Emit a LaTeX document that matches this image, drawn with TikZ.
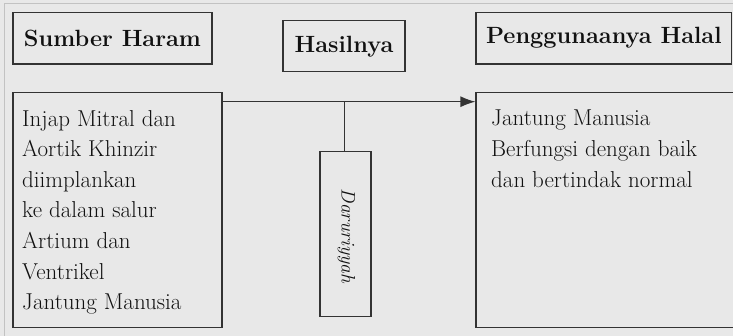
\documentclass[tikz,border=0pt]{standalone}
\usetikzlibrary{arrows.meta}
\definecolor{bg}{HTML}{E8E8E8}
\definecolor{framegray}{HTML}{C2C2C2}
\definecolor{ink}{HTML}{333333}
\definecolor{txt}{HTML}{111111}
\begin{document}
\begin{tikzpicture}[x=1pt,y=-1pt,
  box/.style={draw=ink, line width=1.2pt, rectangle, inner sep=0pt, text=txt},
  head/.style={font=\fontsize{23.5}{27}\selectfont\bfseries},
  body/.style={font=\fontsize{23}{30.6}\selectfont, align=left, inner sep=0pt,
               anchor=north west, text=txt},
  conn/.style={draw=ink, line width=1.2pt},
  tip/.style={-{Latex[length=15pt,width=11pt]}}]
\useasboundingbox (0,0) rectangle (733,336);
% page background and its light frame
\fill[bg] (0,0) rectangle (733,336);
\draw[framegray, line width=1pt] (4,336) -- (4,4) -- (733,4);

% column headings
\node[box, head, minimum width=199pt, minimum height=51.7pt] (sumber) at (112.5,38.2) {Sumber Haram};
\node[box, head, minimum width=122pt, minimum height=51pt] (hasil) at (344,46.2) {Hasilnya};
\node[box, head, minimum width=255.7pt, minimum height=51.7pt] (guna) at (603.9,38.2) {Penggunaanya Halal};

% content boxes
\node[box, minimum width=209pt, minimum height=235pt] (srcbox) at (117.5,209.8) {};
\node[body] (srctext) at (22,110) {Injap Mitral dan\\Aortik Khinzir\\diimplankan\\ke dalam salur\\Artium dan\\Ventrikel\\Jantung Manusia};

\node[box, minimum width=259pt, minimum height=235pt] (resbox) at (605.5,209.8) {};
\node[body] (restext) at (491,110) {Jantung Manusia\\Berfungsi dengan baik\\dan bertindak normal};

\node[box, minimum width=51pt, minimum height=165pt] (darurbox) at (345.5,234.2) {};
\node[rotate=-90, inner sep=0pt, text=txt, font=\fontsize{19.5}{22}\selectfont\itshape] (darurtext) at (346.5,236) {Daruriyyah};

% connectors
\coordinate (j) at (344.3,101.7);
\draw[conn] (srcbox.east |- j) -- (j);
\draw[conn, tip] (j) -- (resbox.west |- j);
\draw[conn] (j) -- (j |- darurbox.north);
\end{tikzpicture}
\end{document}
